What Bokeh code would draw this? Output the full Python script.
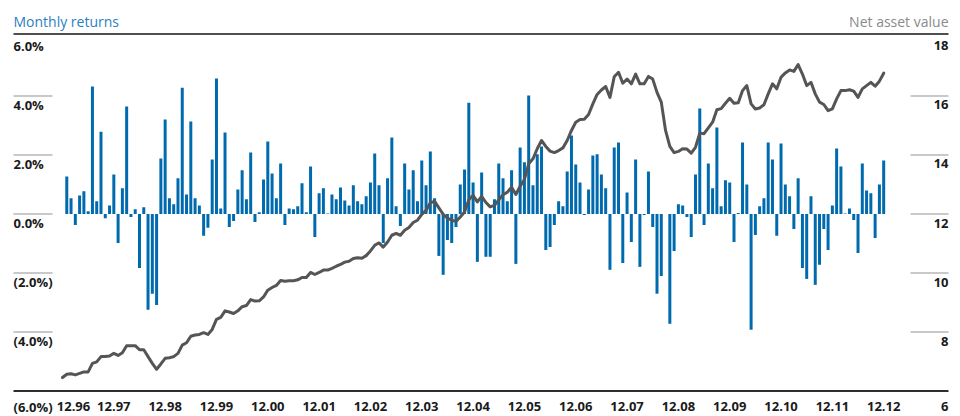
from bokeh.plotting import figure
from bokeh.models import Range1d
from bokeh.core.properties import value
from bokeh.embed import file_html
from bokeh.resources import INLINE

# ---------------- data ----------------
# monthly returns (%), Jan 1997 .. Dec 2012
returns = [
    1.27, 0.53, -0.37, 0.63, 0.77, 0.09, 4.32, 0.43, 2.79, -0.14, 0.29, 1.34,
    -0.98, 0.87, 3.64, -0.10, 0.16, -1.83, 0.23, -3.24, -2.70, -3.08, 1.88, 3.20,
    0.53, 0.33, 1.21, 4.28, 0.66, 3.13, 0.53, 0.29, -0.74, -0.47, 1.85, 4.59,
    0.19, 2.76, -0.44, -0.24, 0.83, 1.48, 0.50, 2.08, -0.27, 0.06, 1.17, 2.46,
    1.37, 0.53, 1.71, -0.37, 0.19, 0.16, 0.26, 1.04, 0.06, 1.61, -0.78, 0.70,
    0.87, 0.02, 0.66, 0.50, 0.90, 0.46, 0.29, 0.97, 0.43, 0.33, 0.60, 1.07,
    2.05, 0.97, -0.98, 1.21, 2.59, 0.26, -0.41, 1.71, 0.83, 1.48, 0.43, 1.81,
    0.97, 2.12, 0.53, -1.42, -2.06, -0.88, -0.98, -0.44, 1.00, 1.51, 3.77, 1.07,
    -1.62, 1.41, -1.45, -1.45, 0.50, 1.71, 1.21, 0.43, 1.48, -1.69, 2.25, 1.75,
    4.01, 0.97, 2.02, 2.29, -1.22, -1.12, -0.37, 0.43, 0.26, 1.44, 2.66, 1.68,
    1.07, -0.03, 0.83, 1.98, 2.02, 1.34, 0.87, -1.89, 2.25, 2.42, -1.66, 0.73,
    -0.95, 1.85, -1.79, -0.03, 1.44, -0.44, -2.70, -2.10, 0.00, -3.72, -1.25, 0.33,
    0.29, -0.10, -0.78, 1.34, 3.57, -0.37, 1.71, 0.87, 2.93, 0.26, 1.14, 1.07,
    -0.95, 0.03, 2.42, 1.00, -3.92, -0.71, 0.26, 0.53, 2.42, 1.85, -0.74, 2.39,
    1.00, 0.60, -0.51, 1.21, -1.83, -2.20, 0.60, -2.40, -1.72, -0.51, -1.22, 0.29,
    2.22, 1.61, 0.02, 0.19, -0.20, -1.32, 1.71, 0.80, 0.70, -0.81, 1.00, 1.81,
]

# net asset value, Dec 1996 .. Dec 2012 (month ends)
nav = [
    6.46, 6.57, 6.59, 6.55, 6.60, 6.65, 6.65, 6.94, 6.99, 7.17, 7.17, 7.19, 7.28,
    7.21, 7.30, 7.54, 7.54, 7.54, 7.40, 7.40, 7.17, 6.94, 6.74, 6.92, 7.11,
    7.13, 7.17, 7.28, 7.56, 7.64, 7.86, 7.90, 7.92, 7.98, 7.92, 8.09, 8.43,
    8.50, 8.72, 8.68, 8.63, 8.72, 8.86, 8.90, 9.10, 9.05, 9.06, 9.19, 9.42,
    9.51, 9.58, 9.75, 9.72, 9.74, 9.74, 9.77, 9.85, 9.85, 10.02, 9.95, 10.02,
    10.10, 10.10, 10.16, 10.23, 10.29, 10.37, 10.40, 10.49, 10.52, 10.50, 10.59, 10.75,
    10.94, 11.02, 10.88, 11.05, 11.28, 11.34, 11.28, 11.45, 11.54, 11.71, 11.79, 11.99,
    12.12, 12.38, 12.43, 12.21, 11.99, 11.86, 11.79, 11.75, 11.90, 12.07, 12.48, 12.63,
    12.41, 12.60, 12.39, 12.24, 12.29, 12.48, 12.65, 12.74, 12.91, 12.66, 12.94, 13.17,
    13.70, 13.87, 14.21, 14.49, 14.29, 14.13, 14.08, 14.15, 14.24, 14.49, 14.83, 15.11,
    15.20, 15.21, 15.37, 15.73, 16.05, 16.20, 16.32, 15.95, 16.65, 16.80, 16.43, 16.57,
    16.41, 16.74, 16.41, 16.41, 16.66, 16.57, 16.12, 15.79, 14.83, 14.29, 14.08, 14.12,
    14.21, 14.20, 14.06, 14.26, 14.74, 14.72, 14.92, 15.11, 15.53, 15.57, 15.75, 15.92,
    15.75, 15.77, 16.18, 16.35, 15.73, 15.56, 15.59, 15.70, 16.07, 16.41, 16.24, 16.63,
    16.78, 16.88, 16.83, 17.06, 16.74, 16.35, 16.46, 16.07, 15.79, 15.71, 15.50, 15.56,
    15.90, 16.18, 16.18, 16.21, 16.16, 15.95, 16.24, 16.35, 16.46, 16.33, 16.50, 16.77,
]

year_labels = ["12.96", "12.97", "12.98", "12.99", "12.00", "12.01", "12.02", "12.03",
               "12.04", "12.05", "12.06", "12.07", "12.08", "12.09", "12.10", "12.11", "12.12"]
pct_ticks = [6, 4, 2, 0, -2, -4, -6]
pct_labels = ["6.0%", "4.0%", "2.0%", "0.0%", "(2.0%)", "(4.0%)", "(6.0%)"]
nav_ticks = [18, 16, 14, 12, 10, 8, 6]
nav_labels = ["18", "16", "14", "12", "10", "8", "6"]

# ---------------- layout (canvas pixels) ----------------
W, H = 960, 416
X0, DX = 62.0, 4.277     # canvas x of month 0 (Dec 96), px per month
Y0, PPP = 213.5, 29.52   # canvas y of 0 %, px per percentage point
NAV_SHIFT = 12           # right scale = left scale + 12
TXT_FIX = 6              # svg text renders a little below its anchor

def xd(px):
    return (px - X0) / DX

def yd(py):
    return (Y0 - py) / PPP

LEFT, RIGHT = 13, 948
BLUE = "#006aae"
FONT = value("Open Sans")

p = figure(width=W, height=H, x_range=Range1d(xd(0), xd(W)), y_range=Range1d(yd(H), yd(0)),
           output_backend="svg", toolbar_location=None, tools="", min_border=0,
           x_axis_location=None, y_axis_location=None, outline_line_color=None,
           background_fill_color="white", border_fill_color="white")
p.extra_y_ranges = {"nav": Range1d(yd(H) + NAV_SHIFT, yd(0) + NAV_SHIFT)}
p.xgrid.visible = False
p.ygrid.visible = False

# top rule and bottom axis line
p.segment(x0=[xd(LEFT)], x1=[xd(RIGHT)], y0=[yd(33.5)], y1=[yd(33.5)],
          line_color="#4f4f4f", line_width=2.2)
p.segment(x0=[xd(LEFT)], x1=[xd(RIGHT)], y0=[pct_ticks[-1]], y1=[pct_ticks[-1]],
          line_color="#2e2e2e", line_width=2)

# short grid stubs
levels = pct_ticks[1:-1]
p.segment(x0=[xd(LEFT)] * len(levels), x1=[xd(52)] * len(levels), y0=levels, y1=levels,
          line_color="#c9c9c9", line_width=2)
p.segment(x0=[xd(910)] * len(levels), x1=[xd(RIGHT)] * len(levels), y0=levels, y1=levels,
          line_color="#c9c9c9", line_width=2)

# bars
months = list(range(1, len(returns) + 1))
p.vbar(x=months, top=returns, bottom=0, width=0.7, fill_color=BLUE, line_color=None)

# NAV line
p.line(x=list(range(len(nav))), y=nav, y_range_name="nav", line_color="#555555",
       line_width=3, line_join="round", line_cap="round")

# headers
p.text(x=[xd(LEFT)], y=[yd(26.5 - TXT_FIX)], text=["Monthly returns"], text_font=FONT,
       text_font_size="14px", text_color="#2a7fc0", text_align="left", text_baseline="alphabetic")
p.text(x=[xd(RIGHT)], y=[yd(26.5 - TXT_FIX)], text=["Net asset value"], text_font=FONT,
       text_font_size="14px", text_color="#8a8a8a", text_align="right", text_baseline="alphabetic")

lab_kw = dict(text_font=FONT, text_font_size="13px", text_font_style="bold",
              text_color="#1a1a1a", text_baseline="alphabetic")
OFF = (15 - TXT_FIX) / PPP
BOTTOM = yd(412 - TXT_FIX)

# left / right tick labels (below their stubs)
p.text(x=[xd(LEFT)] * 6, y=[t - OFF for t in pct_ticks[:-1]], text=pct_labels[:-1],
       text_align="left", **lab_kw)
p.text(x=[xd(RIGHT)] * 6, y=[t - OFF for t in pct_ticks[:-1]], text=nav_labels[:-1],
       text_align="right", **lab_kw)
p.text(x=[xd(LEFT)], y=[BOTTOM], text=[pct_labels[-1]], text_align="left", **lab_kw)
p.text(x=[xd(RIGHT)], y=[BOTTOM], text=[nav_labels[-1]], text_align="right", **lab_kw)

# year labels at December of each year
year_x = [12 * i for i in range(len(year_labels))]
year_x[0] += 11 / DX   # first label nudged right to clear "(6.0%)"
p.text(x=year_x, y=[BOTTOM] * len(year_x), text=year_labels, text_align="center", **lab_kw)

open("out.html", "w").write(file_html(p, INLINE))
